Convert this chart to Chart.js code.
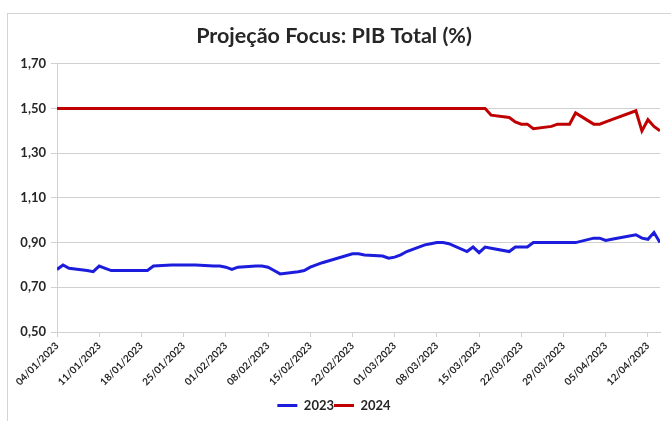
<!DOCTYPE html>
<html>
<head>
<meta charset="utf-8">
<script src="https://cdn.jsdelivr.net/npm/chart.js@4/dist/chart.umd.min.js"></script>
<style>
    html, body { margin: 0; padding: 0; background: #fff; overflow: hidden; }
    #frame {
        position: absolute; left: 7px; top: 13px;
        width: 664px; height: 408px;
        border-left: 1px solid #d4d4d4; border-top: 1px solid #d4d4d4;
    }
</style>
</head>
<body>
<div id="frame"><canvas id="focus" width="664" height="408"></canvas></div>
<script>
// Datas dos boletins Focus (dias úteis)
const dates = [
    '04/01/2023', '05/01/2023', '06/01/2023', '09/01/2023', '10/01/2023', '11/01/2023', '12/01/2023', '13/01/2023',
    '16/01/2023', '17/01/2023', '18/01/2023', '19/01/2023', '20/01/2023', '23/01/2023', '24/01/2023', '25/01/2023',
    '26/01/2023', '27/01/2023', '30/01/2023', '31/01/2023', '01/02/2023', '02/02/2023', '03/02/2023', '06/02/2023',
    '07/02/2023', '08/02/2023', '09/02/2023', '10/02/2023', '13/02/2023', '14/02/2023', '15/02/2023', '16/02/2023',
    '17/02/2023', '22/02/2023', '23/02/2023', '24/02/2023', '27/02/2023', '28/02/2023', '01/03/2023', '02/03/2023',
    '03/03/2023', '06/03/2023', '07/03/2023', '08/03/2023', '09/03/2023', '10/03/2023', '13/03/2023', '14/03/2023',
    '15/03/2023', '16/03/2023', '17/03/2023', '20/03/2023', '21/03/2023', '22/03/2023', '23/03/2023', '24/03/2023',
    '27/03/2023', '28/03/2023', '29/03/2023', '30/03/2023', '31/03/2023', '03/04/2023', '04/04/2023', '05/04/2023',
    '06/04/2023', '10/04/2023', '11/04/2023', '12/04/2023', '13/04/2023', '14/04/2023'
];

const pib2023 = [
    0.78, 0.80, 0.785, 0.775, 0.77, 0.795, 0.785, 0.775,
    0.775, 0.775, 0.775, 0.775, 0.795, 0.80, 0.80, 0.80,
    0.80, 0.80, 0.795, 0.795, 0.79, 0.78, 0.79, 0.795,
    0.795, 0.79, 0.775, 0.76, 0.77, 0.775, 0.79, 0.80,
    0.81, 0.85, 0.85, 0.845, 0.84, 0.83, 0.835, 0.845,
    0.86, 0.89, 0.895, 0.90, 0.90, 0.895, 0.86, 0.88,
    0.855, 0.88, 0.875, 0.86, 0.88, 0.88, 0.88, 0.90,
    0.90, 0.90, 0.90, 0.90, 0.90, 0.92, 0.92, 0.91,
    0.915, 0.935, 0.92, 0.915, 0.945, 0.90
];

const pib2024 = [
    1.50, 1.50, 1.50, 1.50, 1.50, 1.50, 1.50, 1.50,
    1.50, 1.50, 1.50, 1.50, 1.50, 1.50, 1.50, 1.50,
    1.50, 1.50, 1.50, 1.50, 1.50, 1.50, 1.50, 1.50,
    1.50, 1.50, 1.50, 1.50, 1.50, 1.50, 1.50, 1.50,
    1.50, 1.50, 1.50, 1.50, 1.50, 1.50, 1.50, 1.50,
    1.50, 1.50, 1.50, 1.50, 1.50, 1.50, 1.50, 1.50,
    1.50, 1.50, 1.47, 1.46, 1.44, 1.43, 1.43, 1.41,
    1.42, 1.43, 1.43, 1.43, 1.48, 1.43, 1.43, 1.44,
    1.45, 1.49, 1.40, 1.45, 1.42, 1.40
];

// Rótulos semanais do eixo X
const tickLabels = [
    '04/01/2023', '11/01/2023', '18/01/2023', '25/01/2023', '01/02/2023',
    '08/02/2023', '15/02/2023', '22/02/2023', '01/03/2023', '08/03/2023',
    '15/03/2023', '22/03/2023', '29/03/2023', '05/04/2023', '12/04/2023'
];

const seriesNames = ['2023', '2024'];
const seriesColors = ['#1c1cdc', '#c00000'];

function toUtc(s) {
    const [d, m, y] = s.split('/').map(Number);
    return Date.UTC(y, m - 1, d);
}
const day0 = toUtc(dates[0]);
const dayOf = (s) => (toUtc(s) - day0) / 86400000;

const toPoints = (values) => values.map((v, i) => ({ x: dayOf(dates[i]), y: v }));
const fmt = (v) => v.toFixed(2).replace('.', ',');

const textColor = '#262626';
const gridColor = '#d0d0d0';

const ctx = document.getElementById('focus').getContext('2d');
new Chart(ctx, {
    type: 'line',
    data: {
        datasets: [pib2023, pib2024].map((vals, i) => ({
            label: seriesNames[i],
            data: toPoints(vals),
            borderColor: seriesColors[i],
            backgroundColor: seriesColors[i],
            borderWidth: 3,
            pointRadius: 0,
            tension: 0
        }))
    },
    options: {
        responsive: false,
        animation: false,
        layout: { padding: { left: 0, right: 12, top: 0, bottom: 0 } },
        plugins: {
            title: {
                display: true,
                text: 'Projeção Focus: PIB Total (%)',
                color: textColor,
                font: { family: 'Lato', size: 21.5, weight: 'bold' },
                padding: { top: 9, bottom: 15 }
            },
            legend: {
                position: 'bottom',
                labels: {
                    color: textColor,
                    font: { family: 'Lato', size: 13, weight: 'bold' },
                    usePointStyle: true,
                    pointStyle: 'line',
                    pointStyleWidth: 20,
                    padding: 0
                }
            },
            tooltip: { enabled: false }
        },
        scales: {
            x: {
                type: 'linear',
                min: 0,
                max: dayOf(dates[dates.length - 1]),
                afterBuildTicks: (scale) => {
                    scale.ticks = tickLabels.map((t) => ({ value: dayOf(t) }));
                },
                afterFit: (scale) => { scale.height = 67; },
                ticks: {
                    color: textColor,
                    font: { family: 'Lato', size: 10, weight: 'bold' },
                    minRotation: 45,
                    maxRotation: 45,
                    autoSkip: false,
                    padding: 3,
                    callback: (value) => {
                        const i = tickLabels.findIndex((t) => dayOf(t) === value);
                        return i >= 0 ? tickLabels[i] : '';
                    }
                },
                grid: {
                    drawOnChartArea: false,
                    drawTicks: true,
                    tickLength: 5,
                    color: gridColor
                },
                border: { color: gridColor }
            },
            y: {
                min: 0.5,
                max: 1.7,
                afterFit: (scale) => { scale.width = 49; },
                ticks: {
                    stepSize: 0.2,
                    color: textColor,
                    font: { family: 'Lato', size: 13, weight: 'bold' },
                    padding: 5,
                    callback: (value) => fmt(value)
                },
                grid: {
                    color: gridColor,
                    tickLength: 6
                },
                border: { color: gridColor }
            }
        }
    }
});
</script>
</body>
</html>
